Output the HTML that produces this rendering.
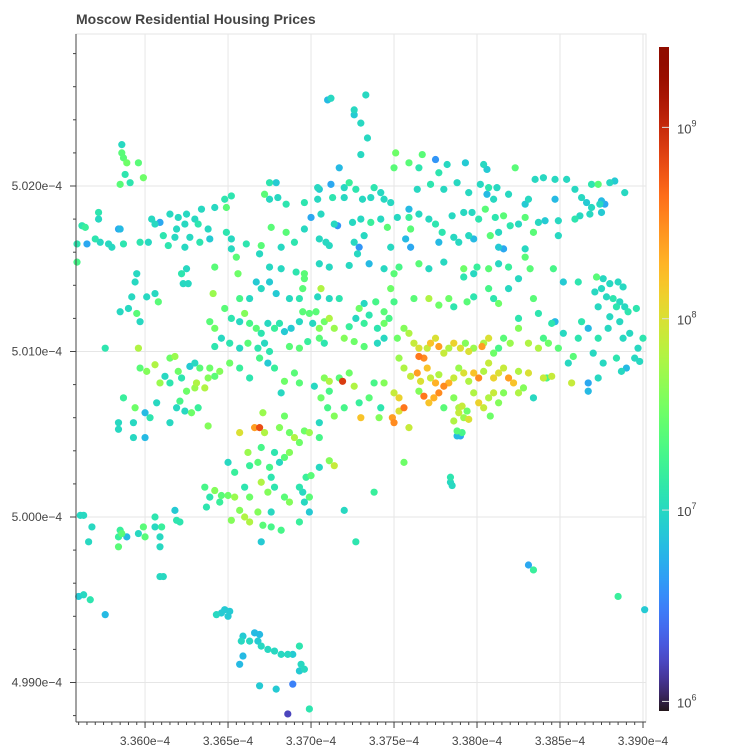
<!DOCTYPE html>
<html><head><meta charset="utf-8"><style>
body{margin:0;background:#fff;}
svg{display:block;font-family:"Liberation Sans",sans-serif;}
</style></head><body>
<svg id="chart" width="750" height="750" xmlns="http://www.w3.org/2000/svg">
<text x="76" y="24" font-size="14" font-weight="bold" fill="#444">Moscow Residential Housing Prices</text>
<g id="grid"></g>
<g id="points"></g>
<g id="axes"></g>
<g id="cbar"></g>
</svg>
<script>
// longitude (x1e-8), latitude (x1e-8), log10 price
const lons = [
33710,33712,33733,33726,33726,33730,33734,33730,33586,33586,33587,33589,33596,33588,33591,33585,33599,
33751,33767,33775,33782,33793,33804,33806,33823,33750,33765,33777,33717,33759,33704,33712,33720,33723,33675,33679,33705,33727,33738,33742,33764,33772,33780,33788,33795,33802,33807,33812,33819,33831,33835,33840,33847,33854,33859,33869,33873,33880,33883,33889,33806,33810,33829,33847,33863,33866,33869,33874,33875,33868,33875,33877,
33672,33675,33680,33685,33696,33704,33713,33720,33731,33736,33744,33748,33652,33648,33649,33642,33634,33625,33620,33615,33609,33604,33606,33619,33624,33630,33632,33638,33639,33627,33618,33611,33614,33624,33633,33572,33572,33562,33564,33570,33573,33584,33585,33578,33580,33587,33559,33565,33597,33602,33559,
33649,33652,33661,33676,33685,33690,33696,33705,33711,33706,33700,33714,33716,33725,33730,33736,33742,33746,33752,33759,33759,33765,33771,33775,33785,33792,33797,33801,33805,33811,33816,33820,33825,33829,33834,33837,33841,33849,33859,33862,33732,33757,33760,33779,33786,33795,33808,33813,33849,33709,33726,33729,33728,33748,33760,33777,33789,33798,33813,33816,33829,33829,
33670,33682,33652,33669,33655,33675,33682,33691,33705,33696,33711,33723,33735,33744,33753,33765,33771,33780,33792,33800,33807,33813,33819,33832,33846,33852,33861,33872,33876,33880,33885,33888,33875,33878,33882,33886,33884,33889,33891,33873,33871,33896,33880,33886,33625,33622,33623,33626,33642,33641,33656,33657,33663,33675,33670,33667,33679,33687,33693,33695,33696,33704,33706,33703,33711,33717,33729,33732,33739,33744,33750,33748,33750,33762,33771,33777,33783,33786,33794,33798,33810,33813,33825,33834,33837,33845,33847,33863,33595,33594,33592,33601,33606,33608,33590,33595,33597,33585,33576,33596,33798,33792,33807,33819,33825,
33639,33642,33648,33652,33657,33660,33663,33667,33670,33674,33678,33681,33684,33688,33693,33695,33699,33701,33705,33708,33711,33714,33720,33723,33727,33732,33740,33744,33747,33735,33642,33646,33651,33657,33662,33668,33672,33675,33687,33693,33698,33705,33708,33726,33732,33740,33744,
33752,33756,33759,33762,33765,33765,33768,33770,33772,33775,33777,33780,33783,33786,33790,33793,33795,33798,33803,33804,33807,33810,33813,33816,33820,33825,33831,33837,33843,33753,33756,33760,33764,33766,33770,33772,33775,33777,33780,33783,33786,33789,33792,33795,33798,33801,33804,33807,33810,33813,33816,33819,33822,33825,33831,33840,33750,33753,33756,33753,33749,33750,33759,33765,33768,33771,33774,33777,33786,33789,33791,33794,33798,33801,33804,33807,33810,33813,33789,33792,33795,33786,33788,33791,33780,33808,33816,33825,33828,33834,33842,33845,33857,33867,33867,33873,33788,33790,33730,33741,33742,33719,33717,33723,33726,33711,33708,33711,33702,33706,33710,33714,33720,33729,33735,33738,33744,33690,33693,33684,33682,33678,33674,33669,33663,33657,33651,
33897,33898,33895,33900,33890,33884,33887,33879,33888,33892,33852,33861,33873,33867,33849,33858,33870,33876,33855,33840,
33597,33601,33606,33609,33615,33612,33615,33618,33620,33622,33625,33630,33631,33636,33638,33639,33642,33645,33630,33633,33627,33621,33619,33624,33628,33632,33638,33615,33603,33600,33594,33587,33584,33593,33593,33600,33584,33607,
33657,33666,33669,33672,33671,33684,33681,33687,33690,33693,33696,33699,33687,33684,33681,33678,33675,33676,33670,33662,33668,33663,33670,33674,33678,33684,33687,33693,33695,33696,33699,33697,33700,33705,33711,33714,33705,33705,33650,33654,33660,33663,33660,33663,33668,33671,33676,33670,33652,33657,33645,33646,33642,33636,33639,33637,33650,33654,33693,33699,33676,33682,33720,33727,33738,33784,33784,33785,33756,33831,33834,33885,33901,
33561,33563,33568,33566,33585,33584,33589,33584,33586,33596,33599,33600,33606,33606,33609,33610,33609,33618,33619,33621,33609,33611,33560,33563,33567,33576,33643,33646,33648,33651,33650,
33659,33658,33666,33669,33663,33668,33670,33674,33678,33682,33686,33689,33659,33657,33693,33694,33693,33696,33689,33669,33679,33686,33699
];
const lats = [
50252,50253,50255,50243,50246,50238,50229,50219,50225,50220,50217,50214,50214,50207,50202,50201,50205,
50220,50219,50216,50213,50214,50213,50210,50211,50211,50211,50208,50211,50214,50199,50201,50199,50202,50202,50202,50198,50198,50199,50196,50198,50201,50198,50202,50196,50201,50199,50199,50195,50192,50204,50205,50204,50204,50198,50201,50201,50202,50203,50196,50195,50192,50189,50192,50193,50190,50187,50189,50191,50183,50184,50189,
50195,50192,50193,50189,50190,50192,50193,50193,50192,50193,50192,50190,50194,50192,50187,50187,50186,50183,50181,50183,50178,50180,50177,50174,50177,50180,50177,50174,50168,50169,50169,50170,50164,50163,50166,50184,50180,50176,50175,50168,50166,50174,50174,50165,50163,50165,50154,50165,50166,50166,50165,
50172,50168,50165,50175,50172,50166,50174,50168,50164,50183,50181,50177,50176,50178,50180,50178,50180,50175,50181,50186,50181,50183,50180,50177,50182,50184,50184,50180,50186,50181,50182,50176,50177,50181,50172,50178,50179,50179,50180,50182,50170,50168,50174,50172,50169,50170,50170,50172,50170,50166,50166,50163,50159,50163,50163,50166,50166,50168,50163,50162,50157,50162,
50164,50163,50162,50159,50157,50151,50150,50148,50153,50147,50151,50152,50153,50150,50151,50153,50150,50154,50150,50151,50150,50153,50151,50150,50150,50142,50142,50145,50144,50141,50142,50139,50138,50133,50132,50130,50127,50127,50124,50127,50136,50126,50121,50118,50150,50147,50141,50141,50151,50135,50147,50132,50132,50142,50138,50142,50135,50132,50132,50138,50144,50133,50138,50124,50132,50132,50126,50129,50130,50124,50130,50138,50147,50132,50132,50128,50132,50127,50130,50133,50132,50129,50120,50132,50123,50117,50118,50118,50147,50142,50133,50133,50135,50130,50126,50123,50118,50124,50102,50102,50147,50145,50138,50138,50144,
50118,50114,50126,50120,50118,50123,50117,50114,50111,50117,50114,50117,50112,50114,50118,50124,50123,50117,50114,50118,50120,50114,50108,50115,50120,50117,50114,50117,50120,50122,50103,50108,50105,50102,50105,50102,50105,50100,50103,50102,50106,50108,50105,50106,50103,50105,50108,
50108,50114,50111,50105,50102,50097,50096,50102,50105,50108,50103,50099,50102,50105,50102,50105,50100,50102,50103,50105,50108,50099,50102,50108,50105,50114,50105,50102,50105,50096,50090,50085,50087,50082,50090,50084,50081,50086,50079,50081,50084,50090,50087,50082,50087,50084,50088,50093,50084,50087,50090,50084,50081,50088,50087,50084,50075,50072,50066,50064,50060,50057,50054,50076,50073,50069,50072,50075,50072,50066,50067,50064,50075,50069,50066,50072,50075,50069,50063,50060,50059,50058,50052,50051,50066,50061,50075,50075,50078,50072,50084,50085,50081,50081,50076,50084,50049,50049,50060,50060,50066,50082,50084,50087,50079,50082,50084,50076,50079,50072,50066,50061,50066,50069,50072,50081,50081,50087,50081,50082,50075,50090,50093,50096,50084,50090,50093,
50102,50094,50096,50108,50090,50096,50088,50114,50108,50111,50111,50108,50108,50114,50102,50097,50099,50093,50093,50108,
50090,50088,50092,50081,50081,50085,50096,50097,50088,50084,50076,50078,50081,50078,50084,50090,50085,50088,50093,50090,50091,50070,50066,50064,50063,50066,50055,50057,50060,50063,50066,50072,50057,50057,50048,50048,50053,50069,
50051,50054,50054,50051,50063,50061,50054,50051,50048,50045,50052,50051,50039,50036,50033,50039,50030,50024,50042,50039,50033,50031,50021,50015,50018,50012,50009,50018,50015,50009,50012,50024,50025,50030,50034,50031,50048,50057,50033,50027,50018,50012,50000,49997,50003,49995,50003,49985,49998,50004,50009,50013,50016,50018,50012,50006,50013,50012,49997,50003,49994,49992,50004,49985,50015,50024,50021,50019,50033,49971,49968,49952,49944,
50001,50001,49994,49985,49992,49988,49988,49982,49990,49990,49994,49988,50000,49994,49988,49994,49982,50004,49998,49997,49964,49964,49952,49953,49950,49941,49941,49942,49944,49943,49940,
49928,49925,49930,49929,49925,49925,49922,49920,49919,49917,49917,49917,49916,49911,49922,49911,49907,49908,49899,49898,49896,49881,49884
];
const prices = [
6.8,7.0,7.0,6.9,7.0,7.0,7.0,7.0,7.0,7.4,7.4,7.5,7.4,7.1,7.1,7.4,7.5,
7.5,7.4,6.6,7.0,6.9,7.0,6.9,7.4,7.4,7.1,7.1,6.8,7.4,7.0,6.7,7.0,7.2,7.1,6.9,6.9,7.1,7.1,7.0,7.0,7.1,7.0,7.0,7.0,7.0,7.1,7.0,7.0,7.0,7.0,7.0,7.0,7.0,7.0,7.1,7.4,7.0,6.9,7.0,6.8,7.0,6.9,6.8,7.0,6.9,7.0,7.0,6.8,7.0,6.9,6.7,
7.4,7.0,7.0,7.1,7.1,7.0,7.1,7.0,7.0,7.0,7.0,7.0,7.1,7.1,7.4,7.0,7.0,7.0,7.0,7.0,6.7,7.0,7.0,7.0,7.0,7.0,7.1,7.0,6.9,7.0,7.0,7.1,7.1,7.0,7.1,7.1,7.0,7.1,7.2,7.1,7.0,6.7,6.8,7.0,7.0,7.1,7.3,6.7,7.1,7.0,7.1,
7.1,7.0,7.1,7.4,7.4,7.1,7.0,7.0,7.0,7.0,6.7,7.0,6.6,7.0,7.0,7.2,7.0,7.4,7.0,6.8,7.2,7.0,7.0,7.1,7.0,7.0,7.0,7.1,7.4,7.1,7.4,7.1,7.0,7.4,7.4,7.0,6.9,7.0,7.1,7.0,7.0,6.8,7.4,7.1,7.0,7.0,7.4,7.0,7.0,7.0,7.0,6.6,7.0,7.0,6.7,6.8,7.0,6.8,6.9,6.7,7.4,7.0,
7.4,7.0,7.0,7.0,7.4,7.0,7.0,7.1,7.0,7.4,7.0,7.0,6.8,7.0,7.3,7.4,7.0,7.0,7.5,7.2,7.4,7.0,7.2,7.4,7.3,6.9,7.1,7.4,7.0,7.0,7.0,7.0,7.0,7.0,7.1,7.0,7.1,7.0,7.1,7.0,7.0,7.1,7.0,7.0,7.0,7.1,7.0,7.0,7.4,7.7,7.5,7.3,7.0,6.9,7.0,6.9,6.9,7.0,7.1,7.4,7.4,7.0,7.8,7.4,7.0,7.1,7.5,7.0,7.3,7.4,7.3,7.5,7.4,7.4,7.8,7.5,7.5,7.1,7.4,7.1,7.1,7.5,7.1,7.4,7.1,7.1,6.8,7.1,7.0,7.0,7.0,7.0,7.0,7.4,7.0,7.4,7.0,7.0,7.1,7.8,7.0,7.1,7.3,7.0,7.0,
7.4,7.5,7.4,7.1,7.0,7.6,7.3,7.4,7.1,7.0,7.2,7.1,6.9,6.9,7.0,7.4,7.4,7.0,7.6,7.5,7.8,7.7,7.6,7.2,7.0,7.2,7.1,7.5,7.3,7.1,7.1,7.0,7.1,7.0,7.4,7.1,7.0,7.1,7.4,7.4,7.2,7.4,7.1,7.5,7.4,7.0,7.0,
7.5,7.6,7.8,7.9,8.0,8.6,8.5,7.9,8.2,8.0,8.4,7.9,7.8,8.1,8.0,7.6,8.0,7.7,8.4,7.8,8.0,7.5,7.3,7.4,7.7,7.6,7.8,7.8,7.5,7.7,7.8,7.9,8.4,8.0,8.2,7.9,8.3,7.8,8.5,8.3,7.9,7.7,8.0,7.8,8.2,8.5,7.8,7.9,8.1,8.0,7.9,8.4,8.2,7.8,8.0,7.9,7.9,8.1,8.6,8.0,8.4,8.5,7.9,7.6,8.6,8.2,8.3,8.5,7.6,7.8,7.9,7.5,7.8,8.1,7.9,7.8,7.9,7.6,7.9,7.7,8.0,7.8,7.4,7.3,7.4,7.5,7.6,7.8,7.6,7.0,7.3,7.9,7.9,6.7,6.8,7.0,6.8,6.7,8.2,7.6,7.1,8.9,7.4,7.5,7.8,7.8,7.6,7.3,7.0,7.5,7.3,7.6,7.3,7.2,7.4,7.3,7.6,7.4,7.4,7.5,7.0,7.2,6.9,7.3,7.1,7.2,7.5,
7.0,7.0,7.0,7.1,6.8,7.1,7.0,7.0,7.0,7.0,7.0,7.1,7.1,6.8,7.4,7.4,7.0,7.0,7.0,7.3,
7.4,7.6,7.8,7.7,7.1,7.0,7.5,7.7,7.5,7.1,7.5,7.7,7.8,7.8,7.6,7.5,7.4,7.6,7.0,7.4,6.9,7.3,7.0,7.0,7.5,7.2,7.6,7.0,7.1,6.8,7.5,7.2,7.0,7.0,7.0,6.8,7.0,7.0,
8.0,8.4,8.8,7.8,7.7,7.5,7.6,7.5,7.8,7.5,7.5,7.7,7.6,7.4,7.0,7.1,7.3,7.1,7.3,7.7,7.4,7.2,7.8,7.6,7.1,7.4,7.6,7.1,7.0,7.0,7.4,7.2,7.4,7.0,7.6,7.9,7.3,7.0,7.0,7.2,7.1,7.5,7.8,7.8,7.6,7.4,7.0,6.9,7.6,7.6,7.2,7.4,7.6,7.3,7.1,7.1,7.5,7.7,7.2,6.9,7.3,7.3,7.0,7.1,7.2,7.1,7.0,7.0,7.5,6.7,7.2,7.2,6.9,
7.0,7.0,7.0,7.0,7.2,7.2,6.8,7.4,7.4,7.0,7.4,7.4,7.1,7.0,7.0,7.2,7.0,6.9,7.1,7.1,7.0,7.0,6.9,7.0,7.1,6.8,7.0,6.9,6.9,6.9,6.9,
6.9,7.0,6.8,6.8,7.0,6.9,7.0,7.0,7.0,7.0,7.0,6.9,6.8,6.8,7.1,7.0,6.9,7.0,6.5,6.9,6.9,6.2,7.1
];
const xTicks = [33600,33650,33700,33750,33800,33850,33900];
const xTickLabels = ["3.360e\u22124","3.365e\u22124","3.370e\u22124","3.375e\u22124","3.380e\u22124","3.385e\u22124","3.390e\u22124"];
const yTicks = [49900,50000,50100,50200];
const yTickLabels = ["4.990e\u22124","5.000e\u22124","5.010e\u22124","5.020e\u22124"];
const cbTicks = [6,7,8,9];

const NS="http://www.w3.org/2000/svg";
const L=76,R=646,T=34,B=722;
const X0=33558.4,X1=33602.4+ (646-148)/1.66; // domain
const xMin=33558.4, xMax=33600+(646-145)/1.66;
const yMin=50000-(722-517)/1.655, yMax=50000+(517-34)/1.655;
function sx(v){return L+(v-xMin)/(xMax-xMin)*(R-L);}
function sy(v){return B-(v-yMin)/(yMax-yMin)*(B-T);}
const cMin=5.95,cMax=9.42,cbTop=47,cbBot=711,cbX=659,cbW=10;
function sc(v){return cbBot-(v-cMin)/(cMax-cMin)*(cbBot-cbTop);}
function turbo(t){t=Math.max(0,Math.min(1,t));
 const r=0.13572138+t*(4.61539260+t*(-42.66032258+t*(132.13108234+t*(-152.94239396+t*59.28637943))));
 const g=0.09140261+t*(2.19418839+t*(4.84296658+t*(-14.18503333+t*(4.27729857+t*2.82956604))));
 const b=0.10667330+t*(12.64194608+t*(-60.58204836+t*(110.36276771+t*(-89.90310912+t*27.34824973))));
 const c=x=>Math.round(Math.max(0,Math.min(1,x))*255);
 return `rgb(${c(r)},${c(g)},${c(b)})`;}
function mk(tag,attrs,parent){const e=document.createElementNS(NS,tag);for(const k in attrs)e.setAttribute(k,attrs[k]);parent.appendChild(e);return e;}

const grid=document.getElementById('grid');
const axes=document.getElementById('axes');
const pts=document.getElementById('points');
const cbar=document.getElementById('cbar');
// frame
const fr=mk('rect',{x:L,y:T,width:R-L,height:B-T,fill:'none',stroke:'#e6e6e6'},grid);


xTicks.forEach((v,i)=>{
 const gl=mk('line',{x1:sx(v),x2:sx(v),y1:T,y2:B,stroke:'#e6e6e6'},grid);
 
 
 const tk=mk('line',{x1:sx(v),x2:sx(v),y1:B,y2:B+6,stroke:'#444'},axes);
 
 
 const tx=mk('text',{x:sx(v),y:B+23,'text-anchor':'middle','font-size':'12',fill:'#444'},axes);
 tx.textContent=xTickLabels[i];
 
 
});
for(let v=33550;v<=33910;v+=5){const x=sx(v);if(x<L||x>R)continue;
 const m=mk('line',{x1:x,x2:x,y1:B,y2:B+3,stroke:'#444'},axes);
 
 }
yTicks.forEach((v,i)=>{
 const gl=mk('line',{x1:L,x2:R,y1:sy(v),y2:sy(v),stroke:'#e6e6e6'},grid);
 
 
 const tk=mk('line',{x1:L-6,x2:L,y1:sy(v),y2:sy(v),stroke:'#444'},axes);
 
 
 const tx=mk('text',{x:L-14,y:sy(v)+4,'text-anchor':'end','font-size':'12',fill:'#444'},axes);
 tx.textContent=yTickLabels[i];
 
 
});
for(let v=49860;v<=50300;v+=20){const y=sy(v);if(y<T||y>B)continue;
 const m=mk('line',{x1:L-3,x2:L,y1:y,y2:y,stroke:'#444'},axes);
 
 }
const xa=mk('line',{x1:L,x2:R,y1:B,y2:B,stroke:'#444'},axes);


const ya=mk('line',{x1:L,x2:L,y1:T,y2:B,stroke:'#444'},axes);



// points (low price first so expensive on top)
const idx=prices.map((p,i)=>i).sort((a,b)=>prices[a]-prices[b]);
idx.forEach(i=>{
 const x=sx(lons[i]),y=sy(lats[i]);
 if(x<L-3||x>R+3||y<T||y>B)return;
 const c=mk('circle',{cx:x,cy:y,r:3.6,fill:turbo((prices[i]-cMin)/(cMax-cMin))},pts);
 
 
});
// color bar
const defs=mk('defs',{},cbar);
const lg=mk('linearGradient',{id:'cg',x1:0,y1:1,x2:0,y2:0},defs);
for(let k=0;k<=40;k++){mk('stop',{offset:k/40,'stop-color':turbo(k/40)},lg);}
const cb=mk('rect',{x:cbX,y:cbTop,width:cbW,height:cbBot-cbTop,fill:'url(#cg)'},cbar);


cbTicks.forEach(v=>{
 const y=sc(v);
 const t=mk('line',{x1:cbX+3,x2:cbX+cbW,y1:y,y2:y,stroke:'#ddd','stroke-width':1},cbar);
 
 
 const tx=mk('text',{x:cbX+18,y:y+6,'font-size':'13',fill:'#444'},cbar);
 
 
 tx.textContent='10';
 const sp=mk('tspan',{dy:-7,'font-size':'9'},tx);
 sp.textContent=String(v);
});
</script>
</body></html>
